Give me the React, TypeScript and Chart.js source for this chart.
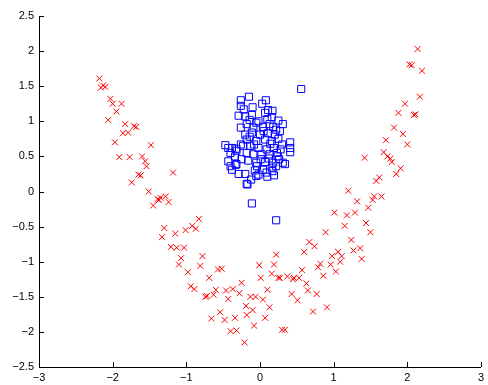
import React, { useEffect, useRef } from "react";
import { Chart, registerables } from "chart.js";

Chart.register(...registerables);

const redX = [
  -2.18, -2.13, -2.10, -2.16, -2.03, -2.00, -1.88, -1.95, -2.06, -1.83,
  -1.71, -1.68, -1.86, -1.79, -1.97, -1.48, -1.91, -1.77, -1.60, -1.56,
  -1.54, -1.65, -1.62, -1.18, -1.74, -1.51, -1.45, -1.39, -1.35, -1.28,
  -1.24, -1.37, -1.30, -1.33, -1.15, -1.01, -0.92, -0.87, -0.83, -1.21,
  -1.13, -1.03, -1.07, -1.10, -0.98, -0.78, -0.81, -0.57, -0.52, -0.69,
  -0.94, -0.89, -0.74, -0.72, -0.60, -0.63, -0.46, -0.37, -0.43, -0.28,
  -0.25, -0.66, -0.54, -0.48, -0.34, -0.40, -0.32, -0.21, -0.19, -0.18,
  -0.10, -0.13, -0.06, 0.04, -0.08, 0.07, 0.10, 0.13, -0.01, 0.01,
  0.19, 0.16, 0.25, 0.37, 0.46, 0.43, 0.51, 0.30, 0.34, 1.20,
  1.55, 1.65, 1.32, 1.53, 1.01, 1.18, 1.29, 1.47, 1.15, 1.44,
  1.50, 0.89, 1.24, 0.67, 0.74, 0.60, 1.27, 1.36, 1.38, 1.06,
  0.98, 1.11, 1.09, 0.96, 0.82, 0.79, 1.03, 0.86, 0.22, 0.57,
  0.27, 0.45, 0.53, 0.63, 0.65, 0.77, 0.72, 0.91, 2.14, 2.03,
  2.06, 2.20, 2.17, 1.97, 1.88, 2.09, 2.11, 1.82, 1.94, 1.71,
  2.00, 1.68, 1.73, 1.77, 1.79, 1.42, 1.91, 1.85, 1.62, 1.58,
];
const redY = [
  1.61, 1.51, 1.49, 1.48, 1.32, 1.25, 1.25, 1.14, 1.02, 0.96,
  0.93, 0.92, 0.83, 0.84, 0.70, 0.66, 0.49, 0.49, 0.50, 0.43,
  0.36, 0.24, 0.23, 0.27, 0.13, 0.00, -0.20, -0.11, -0.09, -0.07,
  -0.15, -0.12, -0.52, -0.65, -0.60, -0.55, -0.49, -0.53, -0.39, -0.79,
  -0.80, -0.80, -0.95, -1.04, -1.15, -0.92, -1.06, -1.11, -1.10, -1.23,
  -1.35, -1.39, -1.50, -1.49, -1.40, -1.47, -1.41, -1.39, -1.53, -1.45,
  -1.30, -1.81, -1.72, -1.83, -1.80, -1.99, -1.98, -2.15, -1.63, -1.76,
  -1.69, -1.50, -1.50, -1.54, -1.91, -1.80, -1.40, -1.65, -1.05, -1.23,
  -1.04, -1.17, -1.23, -1.21, -1.23, -1.46, -1.55, -1.97, -1.97, 0.01,
  -0.07, -0.07, -0.14, -0.12, -0.30, -0.34, -0.30, -0.23, -0.49, -0.45,
  -0.58, -0.58, -0.69, -0.72, -0.78, -0.86, -0.84, -0.81, -0.96, -0.86,
  -0.92, -0.92, -1.00, -1.04, -1.03, -1.08, -1.14, -1.20, -0.90, -1.12,
  -1.23, -1.25, -1.23, -1.31, -1.41, -1.46, -1.71, -1.65, 2.03, 1.81,
  1.80, 1.72, 1.35, 1.25, 1.12, 1.09, 1.10, 0.91, 0.82, 0.73,
  0.67, 0.56, 0.50, 0.47, 0.42, 0.48, 0.33, 0.25, 0.20, 0.15,
];

const blueX = [
  0.56, -0.15, -0.26, -0.26, -0.10, 0.03, 0.07, 0.11, 0.17, -0.29,
  -0.20, -0.11, -0.02, 0.10, 0.25, -0.26, -0.18, -0.09, 0.04, 0.18,
  0.31, -0.20, -0.11, 0.00, 0.11, 0.20, 0.27, -0.18, -0.05, 0.07,
  0.16, 0.25, -0.47, -0.38, -0.32, -0.23, -0.13, -0.02, 0.09, 0.19,
  0.41, 0.41, 0.41, -0.40, -0.34, -0.18, -0.09, 0.02, 0.13, 0.23,
  -0.43, -0.32, -0.16, -0.05, 0.07, 0.18, 0.26, 0.31, -0.38, -0.29,
  -0.20, -0.07, 0.04, 0.16, 0.22, 0.34, -0.12, -0.02, 0.09, 0.17,
  -0.18, -0.40, -0.33, -0.26, -0.32, -0.43, -0.17, -0.05, -0.11, 0.22,
  -0.05, 0.13, 0.22, -0.14, 0.05, 0.14, -0.08, 0.30, 0.01, 0.12,
  0.24, -0.25, 0.10, 0.19, -0.22, 0.08, 0.16, -0.14, 0.28, -0.04,
];
const blueY = [
  1.46, 1.35, 1.30, 1.22, 1.20, 1.25, 1.12, 1.16, 1.15, 1.08,
  1.07, 1.09, 1.00, 1.03, 1.01, 0.91, 0.96, 0.91, 0.92, 0.92,
  0.96, 0.81, 0.84, 0.81, 0.83, 0.81, 0.86, 0.74, 0.72, 0.74,
  0.72, 0.75, 0.66, 0.62, 0.58, 0.65, 0.65, 0.62, 0.60, 0.62,
  0.70, 0.62, 0.56, 0.55, 0.50, 0.55, 0.53, 0.53, 0.53, 0.55,
  0.43, 0.39, 0.44, 0.41, 0.42, 0.41, 0.46, 0.41, 0.31, 0.25,
  0.25, 0.30, 0.31, 0.34, 0.36, 0.39, 0.17, 0.24, 0.27, 0.29,
  0.11, 0.36, 0.38, 0.67, 0.61, 0.62, 0.10, 0.22, -0.17, -0.41,
  0.98, 0.96, 0.88, 0.78, 0.86, 0.68, 0.67, 0.67, 0.46, 0.47,
  0.50, 0.46, 0.21, 0.23, 1.17, 1.30, 1.06, 1.02, 0.60, 0.36,
];

const xTickMin = -3;
const xTickMax = 3;
const xTickStep = 1;
const yTickMin = -2.5;
const yTickMax = 2.5;
const yTickStep = 0.5;

const fmt = (v: number) => {
  const s = String(Math.round(v * 10) / 10);
  return s.replace("-", "\u2212");
};

const inwardTicks = {
  id: "inwardTicks",
  afterDatasetsDraw(chart: any) {
    const ctx = chart.ctx;
    const xs = chart.scales.x;
    const ys = chart.scales.y;
    const area = chart.chartArea;
    ctx.save();
    ctx.strokeStyle = "#000";
    ctx.lineWidth = 1;
    ctx.beginPath();
    xs.ticks.forEach((t: any) => {
      const px = Math.round(xs.getPixelForValue(t.value)) + 0.5;
      ctx.moveTo(px, area.bottom);
      ctx.lineTo(px, area.bottom - 5);
    });
    ys.ticks.forEach((t: any) => {
      const py = Math.round(ys.getPixelForValue(t.value)) + 0.5;
      ctx.moveTo(area.left, py);
      ctx.lineTo(area.left + 5, py);
    });
    ctx.stroke();
    ctx.restore();
  },
};

export default function App() {
  const ref = useRef<HTMLCanvasElement | null>(null);

  useEffect(() => {
    document.body.style.margin = "0";
    const canvas = ref.current;
    if (!canvas) return;
    const font = { family: "'Liberation Sans', Arial, Helvetica, sans-serif", size: 11 };
    const chart = new Chart(canvas, {
      type: "scatter",
      data: {
        datasets: [
          {
            label: "red",
            data: redX.map((x, i) => ({ x, y: redY[i] })),
            pointStyle: "crossRot",
            radius: 4.2,
            borderColor: "#ff0000",
            backgroundColor: "#ff0000",
            borderWidth: 1,
          },
          {
            label: "blue",
            data: blueX.map((x, i) => ({ x, y: blueY[i] })),
            pointStyle: "rect",
            radius: 5,
            borderColor: "#0000ff",
            backgroundColor: "rgba(0,0,0,0)",
            borderWidth: 1,
          },
        ],
      },
      options: {
        animation: false,
        responsive: false,
        devicePixelRatio: 1,
        layout: { padding: { left: 0, top: 16, right: 3, bottom: 0 } },
        plugins: { legend: { display: false }, tooltip: { enabled: false } },
        scales: {
          x: {
            type: "linear",
            min: xTickMin,
            max: xTickMax,
            afterFit: (s: any) => {
              s.height = 18;
            },
            grid: { display: false, drawTicks: false },
            border: { display: true, color: "#000", width: 1 },
            ticks: {
              stepSize: xTickStep,
              color: "#000",
              font,
              padding: 4,
              maxRotation: 0,
              callback: (v: any) => fmt(Number(v)),
            },
          },
          y: {
            type: "linear",
            min: yTickMin,
            max: yTickMax,
            afterFit: (s: any) => {
              s.width = 39;
            },
            grid: { display: false, drawTicks: false },
            border: { display: true, color: "#000", width: 1 },
            ticks: {
              stepSize: yTickStep,
              color: "#000",
              font,
              padding: 5,
              callback: (v: any) => fmt(Number(v)),
            },
          },
        },
      },
      plugins: [inwardTicks],
    });
    return () => chart.destroy();
  }, []);

  return (
    <div style={{ width: 488, height: 385, background: "#fff" }}>
      <canvas ref={ref} width={488} height={385} style={{ display: "block" }} />
    </div>
  );
}
